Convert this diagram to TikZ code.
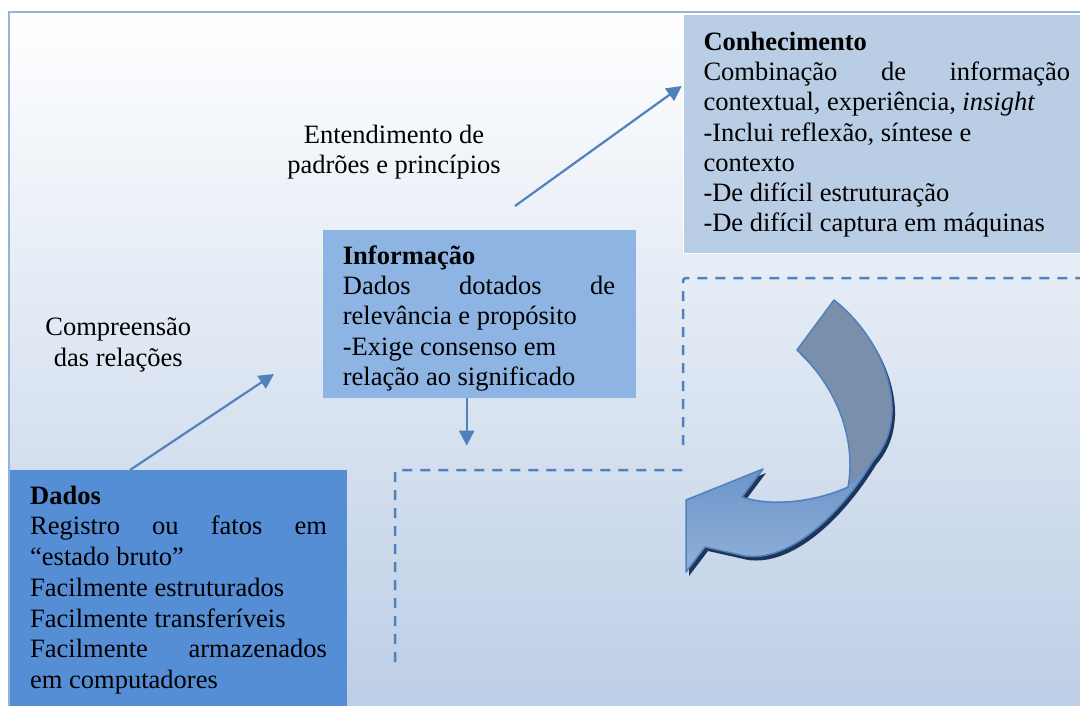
\documentclass[tikz,border=0pt]{standalone}
\usepackage{fontspec}
\setmainfont{Liberation Serif}
\usetikzlibrary{arrows.meta}
\definecolor{bgb}{RGB}{187,205,229}
\definecolor{framec}{RGB}{149,179,215}
\definecolor{conhc}{RGB}{185,205,229}
\definecolor{infoc}{RGB}{142,180,227}
\definecolor{dadosc}{RGB}{85,142,213}
\definecolor{acc}{RGB}{79,129,189}
\definecolor{grayc}{RGB}{122,143,172}
\definecolor{headtop}{RGB}{106,146,200}
\definecolor{headbot}{RGB}{145,177,217}
\definecolor{shad}{RGB}{30,52,90}
\newcommand{\myst}{\rule{0pt}{21pt}}
\begin{document}
\begin{tikzpicture}[x=1pt,y=-1pt,
  txt/.style={inner sep=0pt, anchor=north west, align=left},
  lbl/.style={inner sep=0pt, anchor=north, align=center, font=\fontsize{26.5}{30.5}\selectfont},
  boxn/.style={inner sep=0pt, outer sep=0pt, anchor=north west},
  link/.style={draw=acc, line width=2.2pt, -{Triangle[length=15pt,width=15pt]}},
  dashline/.style={draw=acc, line width=2.5pt, dash pattern=on 10pt off 8pt, rounded corners=3pt}
]
\useasboundingbox (0,0) rectangle (1080,706);
\fill[white] (0,0) rectangle (1080,706);
\shade[top color=white, bottom color=bgb] (9,12) rectangle (1095,720);
\draw[framec, line width=2pt] (9,12) rectangle (1095,720);

% boxes
\node[boxn, fill=dadosc, minimum width=337pt, minimum height=245pt] (dbox) at (10,470) {};
\node[boxn, fill=infoc, minimum width=313pt, minimum height=168pt] (ibox) at (323,230) {};
\node[boxn, fill=conhc, draw=white, line width=1.5pt, minimum width=410pt, minimum height=239pt] (cbox) at (683.5,14.5) {};

% texts
\node[txt, font=\fontsize{26.5}{30.3}\selectfont] (ctext) at (703.3,29) {\myst\textbf{Conhecimento}\\
\makebox[366.7pt][s]{Combinação de informação}\\
contextual, experiência, \textit{insight}\\
-Inclui reflexão, síntese e\\
contexto\\
-De difícil estruturação\\
-De difícil captura em máquinas};

\node[txt, font=\fontsize{26.5}{30.2}\selectfont] (itext) at (342.7,243.3) {\myst\textbf{Informação}\\
\makebox[272.3pt][s]{Dados dotados de}\\
relevância e propósito\\
-Exige consenso em\\
relação ao significado};

\node[txt, font=\fontsize{26.5}{30.7}\selectfont] (dtext) at (30,483) {\myst\textbf{Dados}\\
\makebox[296.7pt][s]{Registro ou fatos em}\\
“estado bruto”\\
Facilmente estruturados\\
Facilmente transferíveis\\
\makebox[296.7pt][s]{Facilmente armazenados}\\
em computadores};

\node[lbl] (lab1) at (394,122.3) {\myst Entendimento de\\padrões e princípios};
\node[lbl, font=\fontsize{26.5}{31.5}\selectfont] (lab2) at (118.3,314) {\myst Compreensão\\das relações};

% connectors
\coordinate (a1) at (274,374);
\coordinate (a2s) at (515,206);
\coordinate (a2e) at (681.7,86);
\coordinate (a3) at (466.7,445.7);
\draw[link] ([xshift=120pt]dbox.north west) -- (a1);
\draw[link] (a2s) -- (a2e);
\draw[link] (ibox.south -| a3) -- (a3);

% dashed lines
\coordinate (p1) at (395,662);
\coordinate (p2) at (683,470);
\coordinate (p3) at (683,445);
\coordinate (p4) at (1090,278);
\draw[dashline] (p1) |- (p2);
\draw[dashline] (p3) |- (p4);

% curved arrow
\fill[shad, shift={(3,4)}] (834,300) .. controls (872,330) and (893,375) .. (892,412) .. controls (891,432) and (885,447) .. (873,461) .. controls (840,515) and (790,562) .. (745,556) -- (705,547) -- (686,572) -- (686,500) -- (763,469) -- (742,497) .. controls (775,508) and (820,500) .. (848,487) .. controls (855,450) and (845,395) .. (797,350) -- cycle;
\fill[grayc] (834,300) .. controls (872,330) and (893,375) .. (892,412) .. controls (891,432) and (885,447) .. (873,461) -- (848,487) .. controls (855,450) and (845,395) .. (797,350) -- cycle;
\shade[top color=headtop, bottom color=headbot] (873,461) .. controls (840,515) and (790,562) .. (745,556) -- (705,547) -- (686,572) -- (686,500) -- (763,469) -- (742,497) .. controls (775,508) and (820,500) .. (848,487) -- cycle;
\draw[acc, line width=1.5pt, line join=round] (834,300) .. controls (872,330) and (893,375) .. (892,412) .. controls (891,432) and (885,447) .. (873,461) .. controls (840,515) and (790,562) .. (745,556) -- (705,547) -- (686,572) -- (686,500) -- (763,469) -- (742,497) .. controls (775,508) and (820,500) .. (848,487) .. controls (855,450) and (845,395) .. (797,350) -- cycle;
\end{tikzpicture}
\end{document}
